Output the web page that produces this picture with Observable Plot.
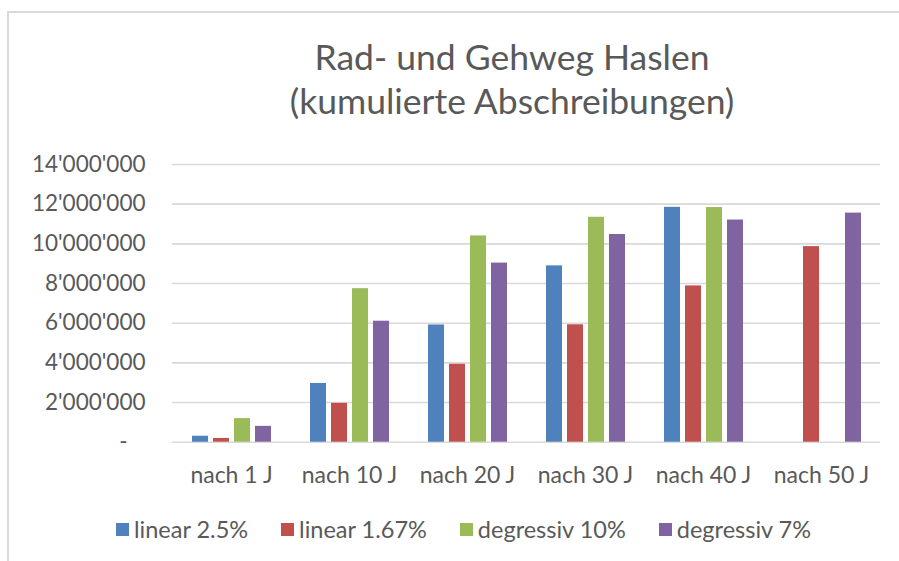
<!DOCTYPE html>
<html>
<head>
<meta charset="utf-8">
<script src="https://cdn.jsdelivr.net/npm/d3@7"></script>
<script src="https://cdn.jsdelivr.net/npm/@observablehq/plot@0.6"></script>
<style>
  html, body { margin: 0; padding: 0; background: #fff; }
  #chart { position: relative; width: 899px; height: 561px; overflow: hidden; background: #fff; font-family: Lato, "Open Sans", sans-serif; color: #595959; }
  #frame { position: absolute; left: 7px; top: 11px; right: -10px; bottom: -10px; border: 2px solid #d9d9d9; }
  #title { position: absolute; left: 212px; width: 600px; top: 35px; text-align: center; font-size: 35.5px; line-height: 44px; color: #595959; }
  #plot { position: absolute; left: 0; top: 140px; }
  #legend { position: absolute; left: 116px; top: 515px; display: flex; gap: 33px; font-size: 23.5px; color: #595959; align-items: center; }
  .item { display: flex; align-items: center; gap: 5px; }
  .sw { width: 13px; height: 13px; display: inline-block; }
</style>
</head>
<body>
<div id="chart">
  <div id="frame"></div>
  <div id="title"></div>
  <div id="plot"></div>
  <div id="legend"></div>
</div>
<script>
const titleLines = ["Rad- und Gehweg Haslen", "(kumulierte Abschreibungen)"];
const categories = ["nach 1 J", "nach 10 J", "nach 20 J", "nach 30 J", "nach 40 J", "nach 50 J"];
const seriesNames = ["linear 2.5%", "linear 1.67%", "degressiv 10%", "degressiv 7%"];
const seriesColors = ["#4f81bd", "#c0504d", "#9bbb59", "#8064a2"];
const linear25 = [300000, 2960000, 5910000, 8890000, 11840000, null];
const linear167 = [190000, 1960000, 3930000, 5920000, 7880000, 9860000];
const degressiv10 = [1190000, 7740000, 10400000, 11340000, 11830000, null];
const degressiv7 = [800000, 6100000, 9030000, 10470000, 11200000, 11550000];
const yTicks = [0, 2000000, 4000000, 6000000, 8000000, 10000000, 12000000, 14000000];

const seriesValues = [linear25, linear167, degressiv10, degressiv7];
const data = [];
categories.forEach((c, i) => {
  seriesNames.forEach((s, j) => {
    const v = seriesValues[j][i];
    if (v != null) data.push({cat: c, series: s, value: v});
  });
});

const locale = d3.formatLocale({decimal: ".", thousands: "'", grouping: [3], currency: ["", ""]});
const fmt = locale.format(",d");

document.getElementById("title").innerHTML = titleLines.map(t => `<div>${t}</div>`).join("");

const chart = Plot.plot({
  width: 899,
  height: 360,
  marginLeft: 172,
  marginRight: 19,
  marginTop: 24,
  marginBottom: 58.3,
  style: {fontFamily: "Lato, 'Open Sans', sans-serif", fontSize: "22.5px", color: "#595959", background: "transparent", overflow: "visible"},
  fx: {domain: categories, paddingInner: 0, paddingOuter: 0, label: null},
  x: {domain: seriesNames, paddingInner: 0.25, paddingOuter: 0.9, axis: null},
  y: {domain: [0, 14000000], label: null},
  color: {domain: seriesNames, range: seriesColors},
  marks: [
    Plot.ruleY(yTicks, {stroke: "#d9d9d9", strokeWidth: 1.6}),
    Plot.barY(data, {fx: "cat", x: "series", y: "value", fill: "series"}),
    Plot.axisY(yTicks.filter(d => d > 0), {tickFormat: fmt, tickSize: 0, tickPadding: 27, label: null, fill: "#595959"}),
    Plot.axisY([0], {tickFormat: () => "-", tickSize: 0, tickPadding: 45, label: null, fill: "#595959"}),
    Plot.axisFx({anchor: "bottom", tickSize: 0, tickPadding: 24, label: null, fill: "#595959", fontSize: 23})
  ]
});
document.getElementById("plot").appendChild(chart);

const legend = document.getElementById("legend");
seriesNames.forEach((s, i) => {
  const item = document.createElement("div");
  item.className = "item";
  item.innerHTML = `<span class="sw" style="background:${seriesColors[i]}"></span><span>${s}</span>`;
  legend.appendChild(item);
});
</script>
</body>
</html>
